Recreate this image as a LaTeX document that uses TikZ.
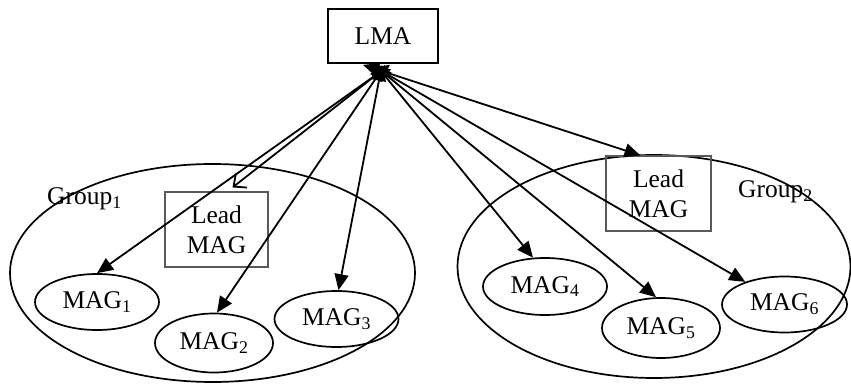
\documentclass[tikz,border=0pt]{standalone}
\usepackage{fontspec}
\setmainfont{Liberation Serif}
\usetikzlibrary{shapes.geometric,arrows.meta,calc}
\tikzset{
  lbl/.style={font=\fontsize{25.5}{30}\selectfont, inner sep=0pt},
  magnode/.style={draw, line width=1.7pt, ellipse, inner sep=0pt, font=\fontsize{25.5}{30}\selectfont},
  grp/.style={draw, line width=1.7pt, ellipse, inner sep=0pt},
  leadbox/.style={draw=black!65, line width=1.1pt, rectangle, inner sep=0pt, align=center, font=\fontsize{25.5}{30}\selectfont},
  lmabox/.style={draw, line width=1.8pt, rectangle, inner sep=0pt, font=\fontsize{25.5}{30}\selectfont},
  conn/.style={line width=1.8pt, {Triangle[length=16pt,width=14pt]}-{Triangle[length=16pt,width=14pt]}},
  connopen/.style={line width=1.8pt, {Triangle[length=16pt,width=14pt]}-{Straight Barb[length=10pt,width=18pt,line width=1.8pt]}}
}
\begin{document}
\begin{tikzpicture}[x=1pt,y=-1pt]
\useasboundingbox (0,0) rectangle (851,385);
% groups
\node[grp, minimum width=405pt, minimum height=218pt] (g1) at (212.5,273) {};
\node[grp, minimum width=393pt, minimum height=223pt] (g2) at (654,266.5) {};
\node[lbl, anchor=west] (g1l) at (47,199) {Group\textsubscript{1}};
\node[lbl, anchor=west] (g2l) at (738,192) {Group\textsubscript{2}};
% LMA
\node[lmabox, minimum width=110pt, minimum height=54pt] (lma) at (383,36) {LMA};
% lead boxes
\node[leadbox, minimum width=103pt, minimum height=75pt] (lead1) at (216.5,229.5) {Lead\\MAG};
\node[leadbox, minimum width=105pt, minimum height=75pt] (lead2) at (658.5,193.5) {Lead\\MAG};
% MAG ellipses
\node[magnode, minimum width=124pt, minimum height=56pt] (mag1) at (97,302) {MAG\textsubscript{1}};
\node[magnode, minimum width=118pt, minimum height=59pt] (mag2) at (214,343) {MAG\textsubscript{2}};
\node[magnode, minimum width=124pt, minimum height=56pt] (mag3) at (336.5,319) {MAG\textsubscript{3}};
\node[magnode, minimum width=124pt, minimum height=57pt] (mag4) at (545,286.5) {MAG\textsubscript{4}};
\node[magnode, minimum width=118pt, minimum height=60pt] (mag5) at (661,328) {MAG\textsubscript{5}};
\node[magnode, minimum width=125pt, minimum height=56pt] (mag6) at (784.5,304.5) {MAG\textsubscript{6}};
% connectors
\draw[connopen] ($(lma.south)+(6,1)$) -- ($(lead1.north)+(16,-4)$);
\draw[conn] ($(lma.south)+(7,1)$) -- (mag1.north);
\draw[conn] ($(lma.south)+(2,1)$) -- ($(mag2.north)+(3,0)$);
\draw[conn] ($(lma.south)+(-1,1)$) -- ($(mag3.north)+(2,0)$);
\draw[conn] ($(lma.south)+(-7,1)$) -- ($(mag4.north)+(-12,0.5)$);
\draw[conn] ($(lma.south)+(-9,1)$) -- ($(mag5.north)+(-5,0)$);
\draw[conn] ($(lma.south)+(-12,1)$) -- (mag6.150);
\draw[conn] ($(lma.south)+(-20,1)$) -- ($(lead2.north)+(-18,0)$);
\end{tikzpicture}
\end{document}
